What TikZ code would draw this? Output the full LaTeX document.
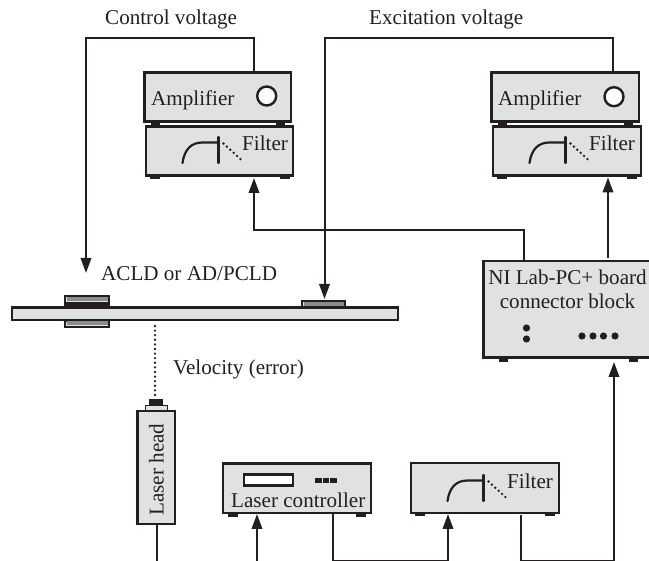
\documentclass[tikz,border=0pt]{standalone}
\usepackage{fontspec}
\setmainfont{Liberation Serif}
\usetikzlibrary{arrows.meta,calc}
\definecolor{panel}{HTML}{E0E1E2}
\definecolor{ink}{HTML}{231F20}
\definecolor{midgray}{HTML}{8C8C8E}
\tikzset{
 box/.style={draw=ink,fill=panel,line width=2.1pt,inner sep=0pt,rectangle},
 lab/.style={inner sep=0pt,anchor=base west,text=ink,font=\fontsize{21.1}{23}\selectfont},
 wire/.style={draw=ink,line width=2pt},
 arrowwire/.style={wire,-{Triangle[length=15pt,width=10.5pt]}},
 dotline/.style={draw=ink,line width=2.6pt,line cap=round,dash pattern=on 0pt off 4.6pt},
 curve/.style={draw=ink,line width=2.2pt,line cap=round},
}
\newcommand{\BX}[5]{\node[box,minimum width={(#4-#2)*1pt},minimum height={(#5-#3)*1pt}] (#1) at ({(#2+#4)/2},{(#3+#5)/2}) {};}
\newcommand{\FT}[5]{\fill[ink] (#2,#3) rectangle (#4,#5);}
\newcommand{\FilterMark}[3]{%
 \begin{scope}[shift={(#1,#2)}]
 \draw[curve] (0,26) .. controls (2,12) and (9,5.5) .. (20,5.5) -- (36,5.5);
 \draw[curve] (36,0) -- (36,26);
 \draw[dotline] (41,6.5) -- (60,24);
 \end{scope}
 \node[lab] (#3) at ({#1+59.5},{#2+13.5}) {Filter};}
\begin{document}
\begin{tikzpicture}[x=1pt,y=-1pt]
\useasboundingbox (0,0) rectangle (649,561);
% amplifier + filter, left
\FT{}{151}{122}{160}{126}\FT{}{276}{122}{285}{126}
\FT{}{150}{175}{160}{179}\FT{}{280}{175}{290}{179}
\BX{ampA}{144.5}{72.5}{291}{121.5}
\BX{filtA}{146}{126.5}{293}{175.5}
\node[lab] (ampAt) at (151,106) {Amplifier};
\node[circle,draw=ink,fill=white,line width=2.4pt,minimum size=19pt,inner sep=0pt] (knobA) at (266.7,96) {};
\FilterMark{182.5}{137}{filtAt}
% amplifier + filter, right
\FT{}{498}{122}{507}{126}\FT{}{624}{122}{633}{126}
\FT{}{497}{175}{507}{179}\FT{}{627}{175}{637}{179}
\BX{ampB}{491.5}{72.5}{639}{121.5}
\BX{filtB}{493}{126.5}{641}{175.5}
\node[lab] (ampBt) at (498,106) {Amplifier};
\node[circle,draw=ink,fill=white,line width=2.4pt,minimum size=19pt,inner sep=0pt] (knobB) at (614,96.7) {};
\FilterMark{529.5}{137}{filtBt}
% connector block
\FT{}{499}{356}{508}{362}\FT{}{629}{356}{638}{362}
\BX{block}{483.5}{261}{655}{357.5}
\node[lab,anchor=base] (blockA) at (567.5,285) {NI Lab-PC+ board};
\node[lab,anchor=base] (blockB) at (567.5,309) {connector block};
\foreach \n/\px/\py in {a/526.5/328,b/526.5/339,c/582/336,d/593/336,e/603.5/336,f/615/336}
 \node[circle,fill=ink,minimum size=7.2pt,inner sep=0pt] (dot\n) at (\px,\py) {};
% board + actuators
\BX{plate}{12}{307.5}{398}{320}
\BX{actTop}{65}{296}{109}{307}
\fill[ink] (65,302) rectangle (109,307.5);
\fill[midgray] (66.5,297.5) rectangle (107.5,301.5);
\BX{actBot}{65}{320.5}{109}{327}
\fill[midgray] (66.5,321.5) rectangle (107.5,325.5);
\BX{actR}{302}{301}{345}{307.5}
\fill[midgray] (303.5,302.5) rectangle (343.5,306.5);
\node[lab] (acld) at (101,281) {ACLD or AD/PCLD};
\node[lab] (vel) at (173,375) {Velocity (error)};
% laser head
\fill[panel,draw=ink,line width=1pt] (145,406) rectangle (167,411);
\fill[ink] (149,399.5) rectangle (163,406);
\BX{head}{137.5}{411}{175}{524}
\node[lab,rotate=90,anchor=base] (headt) at (163.5,469.5) {Laser head};
% laser controller
\FT{}{228}{512}{238}{517}\FT{}{356}{512}{366}{517}
\BX{ctrl}{223}{463.5}{371}{513}
\node[rectangle,draw=ink,fill=white,line width=2.1pt,inner sep=0pt,minimum width=49pt,minimum height=11pt] (disp) at (268.5,480) {};
\foreach \px in {315,322.5,330} \fill[ink] (\px,478) rectangle +(6.5,5.5);
\node[lab] (ctrlt) at (231,508) {Laser controller};
% filter bottom
\FT{}{415}{512}{425}{516.5}\FT{}{545}{512}{555}{516.5}
\BX{filtC}{411}{463}{559}{513}
\FilterMark{447.5}{475}{filtCt}
% free labels
\node[lab] (cv) at (105,25) {Control voltage};
\node[lab] (ev) at (369,25) {Excitation voltage};
% connectors
\coordinate (cvA) at (254,38);
\coordinate (cvB) at (86,38);
\coordinate (cvC) at (86,273);
\draw[arrowwire] (ampA.north -| cvA) -- (cvA) -- (cvB) -- (cvC);
\coordinate (evA) at (613,38);
\coordinate (evB) at (324.5,38);
\coordinate (evC) at (324.5,299);
\draw[arrowwire] (ampB.north -| evA) -- (evA) -- (evB) -- (evC);
\coordinate (fbA) at (523.5,230);
\coordinate (fbB) at (254,230);
\coordinate (fbC) at (254,178);
\draw[arrowwire] (block.north -| fbA) -- (fbA) -- (fbB) -- (fbC);
\coordinate (upA) at (608,258);
\coordinate (upB) at (608,177.5);
\draw[arrowwire] (upA) -- (upB);
\coordinate (vA) at (155,326);
\coordinate (vB) at (155,399);
\draw[dotline] (vA) -- (vB);
\coordinate (hd) at (156.5,561);
\draw[wire] (head.south -| hd) -- (hd);
\coordinate (ci) at (257,561);
\coordinate (citip) at (257,514);
\draw[arrowwire] (ci) -- (citip);
\coordinate (coA) at (333,561.3);
\coordinate (coB) at (448,561.3);
\coordinate (coC) at (448,514);
\draw[arrowwire] (ctrl.south -| coA) -- (coA) -- (coB) -- (coC);
\coordinate (foS) at (521,515.5);
\coordinate (foA) at (521,560.6);
\coordinate (foB) at (614,560.6);
\coordinate (foC) at (614,362);
\draw[arrowwire] (foS) -- (foA) -- (foB) -- (foC);
\end{tikzpicture}
\end{document}
